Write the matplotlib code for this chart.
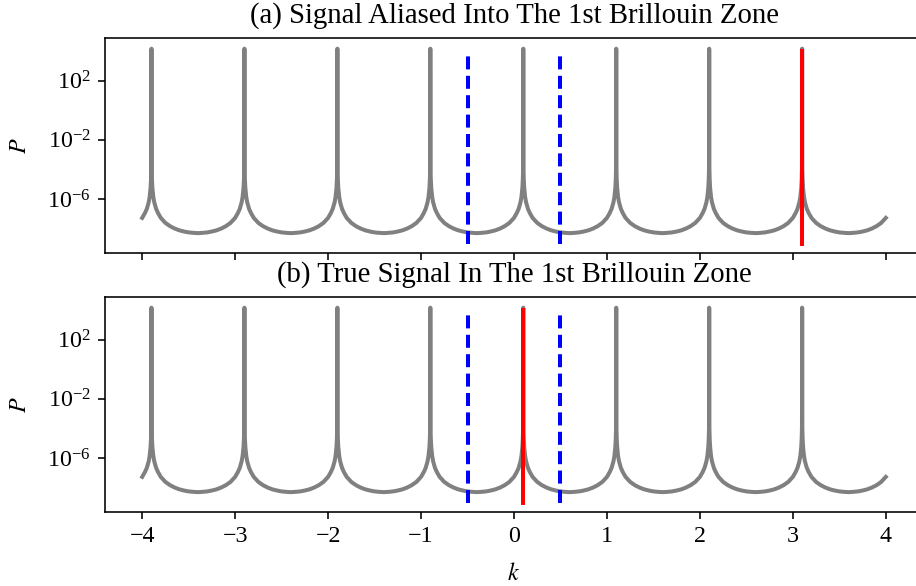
import numpy as np
import matplotlib.pyplot as plt

plt.rcParams['font.family'] = ['Liberation Serif', 'DejaVu Serif']
plt.rcParams['mathtext.fontset'] = 'stix'
plt.rcParams['font.size'] = 12

# peak positions of the periodogram (true k = 0.1 plus its aliases)
peaks = [-3.9, -2.9, -1.9, -0.9, 0.1, 1.1, 2.1, 3.1, 4.1]
# shape of one peak: distance from peak centre -> log10(P)
offset = [0.0, 0.002, 0.005, 0.01, 0.02, 0.03, 0.05, 0.07, 0.1,
          0.15, 0.2, 0.25, 0.3, 0.35, 0.4, 0.45, 0.5]
log_p = [4.15, -3.9, -4.66, -5.26, -5.87, -6.22, -6.66, -6.94, -7.27,
         -7.61, -7.83, -7.99, -8.11, -8.19, -8.25, -8.28, -8.3]

zone_edges = [-0.5, 0.5]
red_k = [3.1, 0.1]
titles = ['(a) Signal Aliased Into The 1st Brillouin Zone',
          '(b) True Signal In The 1st Brillouin Zone']
line_lo, red_hi, blue_hi = 1e-9, 1e4, 10 ** 3.73
yticks = [1e2, 1e-2, 1e-6]
xticks = [-4, -3, -2, -1, 0, 1, 2, 3, 4]

k_list, p_list = [], []
for pk in peaks:
    for d, lp in zip(offset[::-1], log_p[::-1]):
        k_list.append(pk - d)
        p_list.append(10 ** lp)
    for d, lp in zip(offset[1:-1], log_p[1:-1]):
        k_list.append(pk + d)
        p_list.append(10 ** lp)
k = np.round(np.array(k_list), 6)
P = np.array(p_list)
keep = (k >= -4) & (k <= 4)
k, P = k[keep], P[keep]

W, H = 916, 586
fig = plt.figure(figsize=(W / 144, H / 144), dpi=144)
ax_a = fig.add_axes([105 / W, 1 - 253 / H, 818 / W, 215 / H])
ax_b = fig.add_axes([105 / W, 1 - 512 / H, 818 / W, 215 / H], sharex=ax_a)

for ax, title, rk in zip([ax_a, ax_b], titles, red_k):
    ax.semilogy(k, P, color='gray', lw=2)
    for ze in zone_edges:
        ax.plot([ze, ze], [line_lo, blue_hi], color='b', lw=2,
                linestyle=(0, (3.25, 1.6)))
    ax.plot([rk, rk], [line_lo, red_hi], 'r-', lw=2)
    ax.set_ylim(10 ** -9.64, 10 ** 4.87)
    ax.set_yticks(yticks)
    ax.minorticks_off()
    ax.set_ylabel('$P$')
    ax.yaxis.set_label_coords(-0.091, 0.5)
    ax.set_title(title, pad=7.5)

ax_a.set_xlim(-4.4, 4.4)
ax_a.set_xticks(xticks)
ax_a.tick_params(labelbottom=False)
ax_b.set_xlabel('$k$')
ax_b.xaxis.set_label_coords(0.5, -0.238)

fig.savefig('out.png', dpi=144)
